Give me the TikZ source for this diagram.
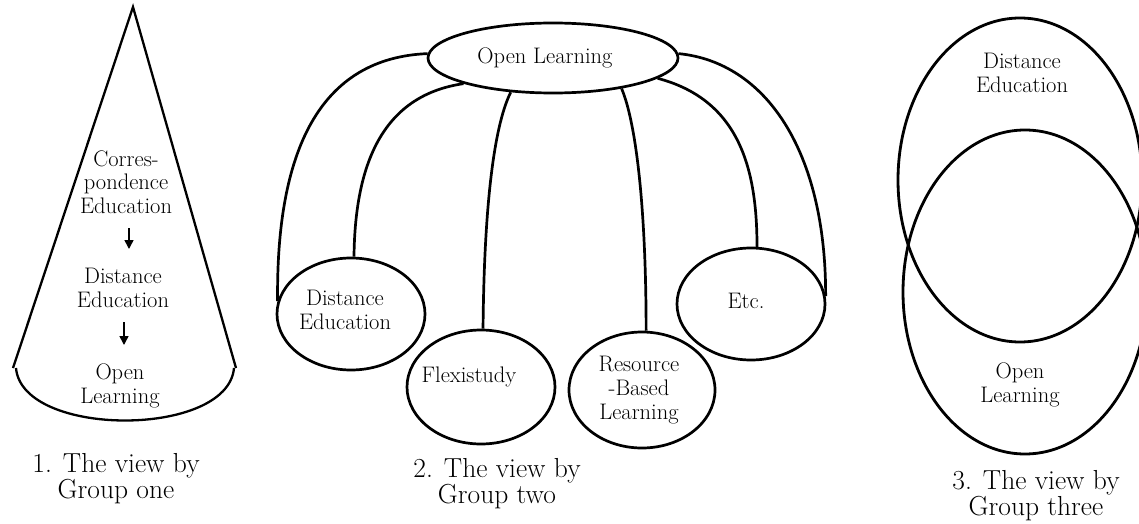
\documentclass[tikz,border=0pt]{standalone}
\usepackage{fontspec}
\usetikzlibrary{shapes.geometric,arrows.meta}
\newcommand{\heavytext}{\addfontfeatures{FakeBold=2.5}}
\begin{document}
\begin{tikzpicture}[x=1pt,y=-1pt,
  lbl/.style={font=\fontsize{22.5}{23.5}\selectfont\heavytext, align=center, inner sep=0pt},
  capt/.style={font=\fontsize{27.5}{26}\selectfont\heavytext, align=center, inner sep=0pt},
  ell/.style={draw, ellipse, line width=2.7pt, minimum width=148pt, minimum height=112pt, inner sep=0pt},
  link/.style={line width=2.7pt},
  conel/.style={line width=2.3pt, line join=miter},
  vl/.style={line width=2.8pt},
  arr/.style={line width=1.6pt, -{Triangle[length=9pt,width=9pt]}}
]
\useasboundingbox (0,0) rectangle (1139,524);
\clip (0,0) rectangle (1139,524);

% ---------- Group one: cone ----------
\draw[conel] (13,368) -- (133,7) -- (236,368);
\draw[conel] (16,368) .. controls (22,438) and (228,438) .. (234,368);
\node[lbl] (c1) at (126,182) {Corres-\\pondence\\Education};
\node[lbl] (c2) at (123,288) {Distance\\Education};
\node[lbl] (c3) at (120,386) {Open\\Learning};
\coordinate (a1s) at (129,228);
\coordinate (a1e) at (129,249);
\coordinate (a2s) at (124,322);
\coordinate (a2e) at (124,345);
\draw[arr] (a1s) -- (a1e);
\draw[arr] (a2s) -- (a2e);
\node[capt] (k1) at (116,479) {1. The view by\\Group one};

% ---------- Group two ----------
\node[ell, minimum width=250pt, minimum height=70pt] (ol) at (553,58) {};
\node[lbl] (olt) at (545,58) {Open Learning};
\node[ell] (de) at (351,314) {};
\node[lbl] (det) at (345,310) {Distance\\Education};
\node[ell, minimum height=114pt] (fx) at (481,387) {};
\node[lbl] (fxt) at (469,377) {Flexistudy};
\node[ell, minimum width=146pt, minimum height=116pt] (rb) at (642,390) {};
\node[lbl, font=\fontsize{22.5}{24}\selectfont\heavytext] (rbt) at (639,390) {Resource\\-Based\\Learning};
\node[ell] (etc) at (751,304) {};
\node[lbl] (etct) at (746,301) {Etc.};

\draw[link] (ol.178) .. controls (320,58) and (276,150) .. (de.170);
\draw[link] (ol.196) .. controls (385,95) and (355,160) .. (de.87);
\draw[link] (ol.219) .. controls (492,130) and (484,220) .. (fx.88);
\draw[link] (ol.336) .. controls (635,120) and (646,200) .. (rb.86);
\draw[link] (ol.349) .. controls (740,100) and (757,170) .. (etc.84);
\draw[link] (ol.2) .. controls (765,62) and (826,150) .. (etc.6);
\node[capt] (k2) at (497,484) {2. The view by\\Group two};

% ---------- Group three: overlapping ellipses ----------
\draw[vl] (1020,180) ellipse [x radius=122pt, y radius=162pt];
\draw[vl] (1025,292) ellipse [x radius=122pt, y radius=162pt];
\node[lbl] (v1) at (1022,73) {Distance\\Education};
\node[lbl] (v2) at (1020,385) {Open\\Learning};
\node[capt] (k3) at (1036,496) {3. The view by\\Group three};
\end{tikzpicture}
\end{document}
